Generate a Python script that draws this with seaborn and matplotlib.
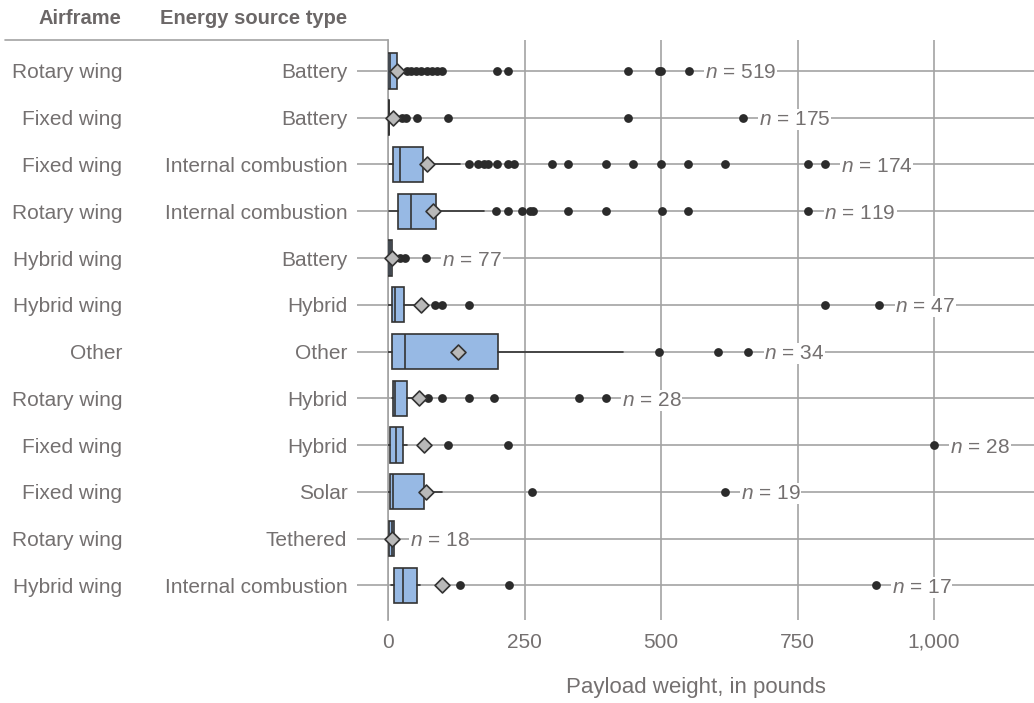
import numpy as np
import pandas as pd
import matplotlib
matplotlib.use("Agg")
import matplotlib.pyplot as plt
from matplotlib.transforms import blended_transform_factory
from matplotlib.lines import Line2D
import seaborn as sns

# Payload weight (pounds) summary per airframe / energy source group
airframe = ["Rotary wing", "Fixed wing", "Fixed wing", "Rotary wing", "Hybrid wing",
            "Hybrid wing", "Other", "Rotary wing", "Fixed wing", "Fixed wing",
            "Rotary wing", "Hybrid wing"]
energy_source = ["Battery", "Battery", "Internal combustion", "Internal combustion",
                 "Battery", "Hybrid", "Other", "Hybrid", "Hybrid", "Solar",
                 "Tethered", "Internal combustion"]
sample_size = [519, 175, 174, 119, 77, 47, 34, 28, 28, 19, 18, 17]

q1 = [0, 0, 10, 19, 0, 8, 8, 10, 4, 4, 2, 11]
median = [3, 1, 22, 43, 3, 13, 32, 13, 15, 10, 7, 27]
q3 = [16, 2, 65, 88, 8, 29, 202, 35, 27, 66, 11, 53]
whisker_low = [0, 0, 2, 2, 0, 0, 0, 7, 0, 0, 2, 5]
whisker_high = [30, 5, 132, 176, 15, 55, 430, 44, 35, 98, 11, 59]
mean = [17, 10, 71, 82, 7, 60, 128, 57, 66, 70, 8, 98]

outliers = [
    [34, 43, 52, 61, 71, 80, 89, 98, 199, 219, 440, 497, 500, 551],
    [25, 33, 54, 109, 440, 650],
    [149, 164, 175, 184, 199, 219, 230, 300, 330, 399, 449, 500, 550, 617, 770, 800],
    [197, 219, 245, 260, 265, 330, 399, 501, 550, 770],
    [22, 32, 70],
    [86, 98, 149, 800, 900],
    [496, 605, 660],
    [74, 99, 149, 195, 350, 399],
    [109, 219, 1000],
    [264, 617],
    [],
    [132, 222, 893],
]

x_ticks = [0, 250, 500, 750, 1000]
x_tick_labels = ["0", "250", "500", "750", "1,000"]

sns.set_theme(style="white")
plt.rcParams["font.family"] = ["Liberation Sans", "DejaVu Sans"]
plt.rcParams["mathtext.fontset"] = "custom"
plt.rcParams["mathtext.rm"] = "Liberation Sans"
plt.rcParams["mathtext.it"] = "Liberation Sans:italic"

TEXT = "#747070"
GRID = "#a3a3a3"
BOX = "#97b9e4"
EDGE = "#333333"

W, H = 1034, 703
fig = plt.figure(figsize=(W / 100, H / 100), dpi=100)
ax = fig.add_axes([388 / W, 1 - 620 / H, 1 - 388 / W, 580 / H])

rows = np.arange(len(energy_source))

# Boxes from the summary statistics
stats = [dict(med=m, q1=a, q3=b, whislo=lo, whishi=hi, fliers=[], label=e)
         for m, a, b, lo, hi, e in zip(median, q1, q3, whisker_low, whisker_high, energy_source)]
ax.bxp(stats, positions=rows, widths=0.75, orientation="horizontal",
       patch_artist=True, showcaps=False, showfliers=False, manage_ticks=False,
       boxprops=dict(facecolor=BOX, edgecolor=EDGE, linewidth=1.2),
       medianprops=dict(color=EDGE, linewidth=1.2),
       whiskerprops=dict(color=EDGE, linewidth=1.2),
       zorder=3)

# Outlying observations
out_df = pd.DataFrame([(i, v) for i, vals in enumerate(outliers) for v in vals],
                      columns=["row", "payload"])
sns.scatterplot(data=out_df, x="payload", y="row", ax=ax, color="#2b2b2b",
                s=40, linewidth=0, zorder=4, clip_on=False)

# Group means
mean_df = pd.DataFrame({"row": rows, "mean": mean})
sns.scatterplot(data=mean_df, x="mean", y="row", ax=ax, marker="D", s=58,
                color="#b9b9b9", edgecolor=EDGE, linewidth=1.2, zorder=5, clip_on=False)

# Sample size labels
for i in rows:
    xmax = max(outliers[i] + [whisker_high[i], q3[i], mean[i]])
    ax.annotate(f"$n$ = {sample_size[i]}", xy=(xmax, i), xytext=(11.5, 0),
                textcoords="offset points", ha="left", va="center_baseline",
                fontsize=15, color=TEXT, zorder=6,
                bbox=dict(facecolor="white", edgecolor="none", pad=0.6))

ax.set_xlim(0, 1183)
ax.set_ylim(len(rows) - 1 + 0.743, -0.663)
ax.set_xticks(x_ticks, x_tick_labels)
ax.set_yticks(rows, energy_source)
ax.tick_params(axis="y", length=22.3, width=1.2, color=GRID, pad=7,
               labelsize=15, labelcolor=TEXT, left=True)
ax.tick_params(axis="x", length=0, pad=9, labelsize=15, labelcolor=TEXT)
ax.grid(True, color=GRID, linewidth=1.2)
ax.set_axisbelow(True)
for side in ["top", "right", "bottom"]:
    ax.spines[side].set_visible(False)
ax.spines["left"].set_color(GRID)
ax.spines["left"].set_linewidth(1.2)

ax.set_ylabel("")
ax.set_xlabel("Payload weight, in pounds", fontsize=16, color=TEXT)
ax.xaxis.label.set_va("center")
ax.xaxis.set_label_coords((696 - 388) / (W - 388), -(688 - 620) / 580)

# Airframe column
trans = blended_transform_factory(fig.transFigure, ax.transData)
for i, a in zip(rows, airframe):
    ax.text(122 / W, i, a, transform=trans, ha="right", va="center_baseline",
            fontsize=15, color=TEXT, clip_on=False)

# Column headers and separator
fig.text(121 / W, 1 - 18 / H, "Airframe", ha="right", va="center",
         fontsize=14.5, fontweight="bold", color="#6b6767")
fig.text(347 / W, 1 - 18 / H, "Energy source type", ha="right", va="center",
         fontsize=14.5, fontweight="bold", color="#6b6767")
fig.add_artist(Line2D([5 / W, 388 / W], [1 - 40 / H] * 2, color=GRID, linewidth=1.2))

fig.savefig("out.png", dpi=100)
